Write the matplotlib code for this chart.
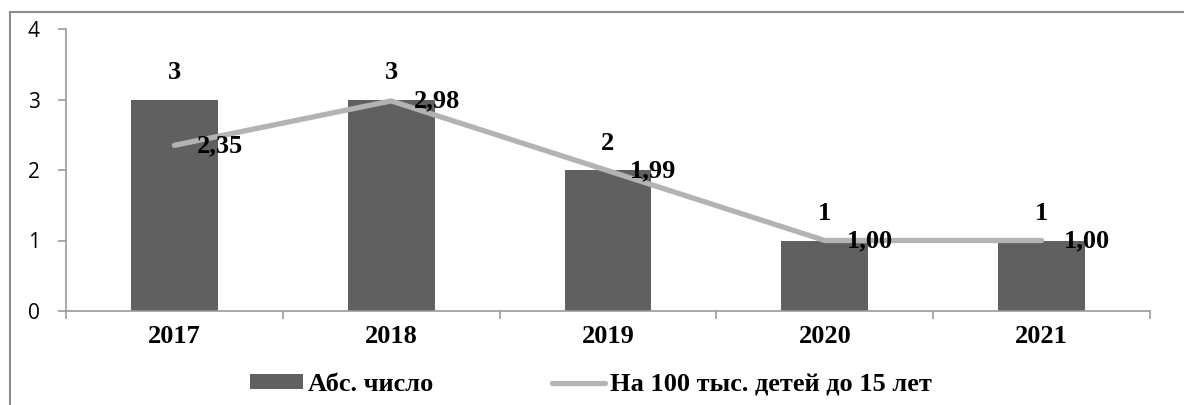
import matplotlib
matplotlib.use("Agg")
import matplotlib.pyplot as plt
import matplotlib.lines as mlines
import numpy as np

# --- Данные ---
years = ['2017', '2018', '2019', '2020', '2021']
abs_count = [3, 3, 2, 1, 1]
per_100k = [2.35, 2.98, 1.99, 1.00, 1.00]
abs_label = 'Абс. число'
rate_label = 'На 100 тыс. детей до 15 лет'

bar_color = '#606060'
line_color = '#b3b3b3'
spine_color = '#9a9a9a'
serif = 'Liberation Serif'

fig = plt.figure(figsize=(11.84, 4.05), dpi=100)
ax = fig.add_axes([66 / 1184, 1 - 311 / 405, (1150 - 66) / 1184, (311 - 29) / 405])

x = np.arange(len(years))
bars = ax.bar(x, abs_count, width=0.4, color=bar_color, label=abs_label, zorder=2)
line, = ax.plot(x, per_100k, color=line_color, linewidth=3.8, solid_capstyle='round',
                label=rate_label, zorder=3)

# подписи столбцов
for xi, v in zip(x, abs_count):
    ax.annotate(str(v), (xi, v), xytext=(0, 11), textcoords='offset points',
                ha='center', va='bottom', fontsize=19, fontweight='bold',
                family=serif, zorder=4)

# подписи линии
for xi, v in zip(x, per_100k):
    ax.annotate(f'{v:.2f}'.replace('.', ','), (xi, v), xytext=(16, 0),
                textcoords='offset points', ha='left', va='center',
                fontsize=19, fontweight='bold', family=serif, zorder=4)

ax.set_xlim(-0.5, len(years) - 0.5)
ax.set_ylim(0, 4)
ax.set_yticks([0, 1, 2, 3, 4])
ax.set_xticks(x)
ax.set_xticklabels(years, fontsize=19, fontweight='bold', family=serif)
ax.set_xticks(np.arange(-0.5, len(years)), minor=True)
ax.tick_params(axis='x', which='major', length=0, pad=10)
ax.tick_params(axis='x', which='minor', length=6, color=spine_color, width=1.2)
ax.tick_params(axis='y', length=6, color=spine_color, width=1.2, pad=13,
               labelsize=15)
for lab in ax.get_yticklabels():
    lab.set_family('Open Sans')

for side in ['top', 'right']:
    ax.spines[side].set_visible(False)
for side in ['left', 'bottom']:
    ax.spines[side].set_color(spine_color)
    ax.spines[side].set_linewidth(1.2)

# легенда
fig.legend([bars, line], [abs_label, rate_label], loc='center',
           bbox_to_anchor=(0.499, 0.05), ncol=2, frameon=False,
           prop={'family': serif, 'weight': 'bold', 'size': 19},
           handlelength=2.0, handleheight=0.5, handletextpad=0.2,
           columnspacing=4.5)

# рамка диаграммы
fig.add_artist(mlines.Line2D([10 / 1184, 10 / 1184], [0, 1 - 12 / 405],
                             transform=fig.transFigure, color='#8c8c8c', linewidth=1.5))
fig.add_artist(mlines.Line2D([10 / 1184, 1], [1 - 12 / 405, 1 - 12 / 405],
                             transform=fig.transFigure, color='#8c8c8c', linewidth=1.5))

fig.savefig('out.png', dpi=100)
